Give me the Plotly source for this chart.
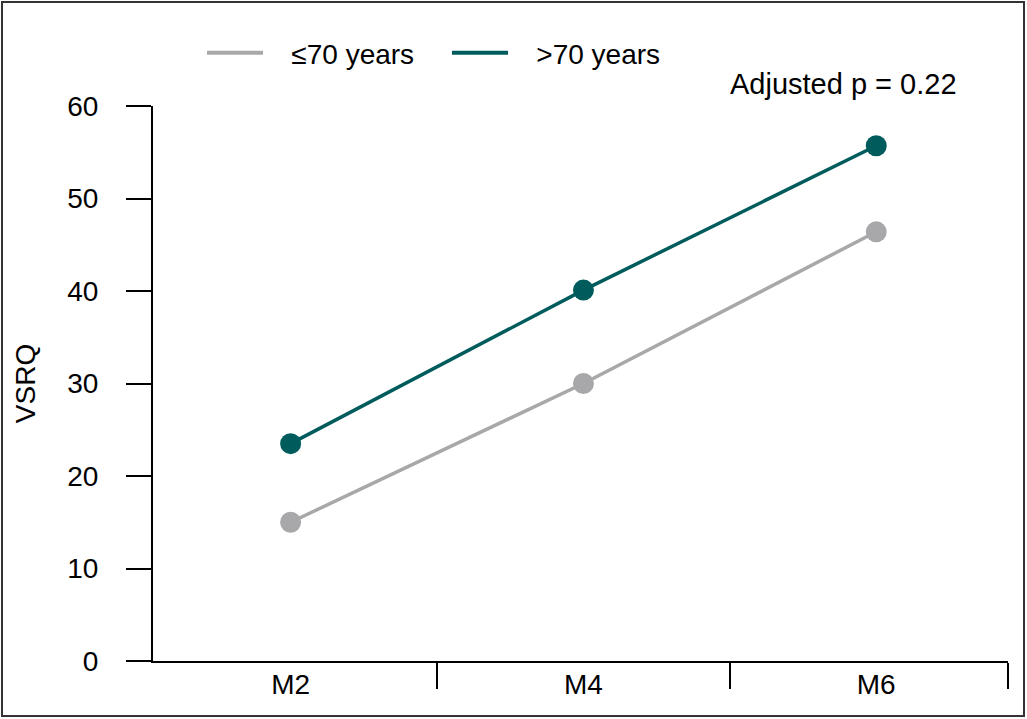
import plotly.graph_objects as go

categories = ["M2", "M4", "M6"]
young = [15.0, 30.0, 46.4]
old = [23.5, 40.1, 55.7]
series_names = ["≤70 years", ">70 years"]
series_colors = ["#a8a8aa", "#005c5c"]
y_ticks = [0, 10, 20, 30, 40, 50, 60]

W, H = 1027, 719
ML, MR, MT, MB = 153, 19, 106, 58
pw, ph = W - ML - MR, H - MT - MB

xs = list(range(len(categories)))
font = "Liberation Sans, Arial, sans-serif"
FS = 28
X_MIN, X_MAX = -0.47, 2.45

fig = go.Figure()
for name, vals, col in zip(series_names, [young, old], series_colors):
    fig.add_trace(go.Scatter(x=xs, y=vals, name=name, mode="lines+markers", showlegend=False,
                             line=dict(color=col, width=3.5),
                             marker=dict(size=21, color=col)))
pad = "\u00a0" * 3
for name, col in zip(series_names, series_colors):
    fig.add_trace(go.Scatter(x=[None], y=[None], name=pad + name, mode="lines",
                             line=dict(color=col, width=4), showlegend=True))


def px_x(p):
    return (p - ML) / pw


def px_y(p):
    return (H - MB - p) / ph


boundaries = [i + 0.5 for i in xs[:-1]] + [X_MAX]

fig.update_layout(
    width=W, height=H,
    margin=dict(l=ML, r=MR, t=MT, b=MB, autoexpand=False),
    paper_bgcolor="white", plot_bgcolor="white",
    font=dict(family=font, size=FS, color="black"),
    showlegend=True,
    legend=dict(orientation="h", x=px_x(202), xanchor="left", y=px_y(53), yanchor="middle",
                font=dict(size=FS), itemwidth=56, entrywidth=174, entrywidthmode="pixels",
                bgcolor="rgba(0,0,0,0)"),
    xaxis=dict(range=[X_MIN, X_MAX], tickvals=xs, ticktext=categories, ticks="",
               showline=True, linecolor="black", linewidth=2, showgrid=False, zeroline=False,
               tickfont=dict(size=FS), ticklabelstandoff=-3,
               minor=dict(tickmode="array", tickvals=boundaries, ticks="outside", ticklen=26,
                          tickwidth=1.5, tickcolor="black", showgrid=False)),
    yaxis=dict(range=[0, 60], tickvals=y_ticks, ticks="outside", ticklen=25, tickwidth=1.5,
               tickcolor="black", showline=True, linecolor="black", linewidth=2,
               showgrid=False, zeroline=False, tickfont=dict(size=FS), ticklabelstandoff=22,
               title=dict(text="VSRQ", font=dict(size=FS), standoff=23)),
    annotations=[dict(text="Adjusted p = 0.22", xref="paper", yref="paper",
                      x=px_x(959), y=px_y(84), xanchor="right", yanchor="middle",
                      showarrow=False, font=dict(size=29))],
    shapes=[dict(type="rect", xref="paper", yref="paper",
                 x0=px_x(2), x1=px_x(1024), y0=px_y(716), y1=px_y(2),
                 line=dict(color="#333333", width=2), layer="below")],
)

fig.write_html("out.html", config={"displayModeBar": False},
               post_script="document.body.style.margin='0';")
